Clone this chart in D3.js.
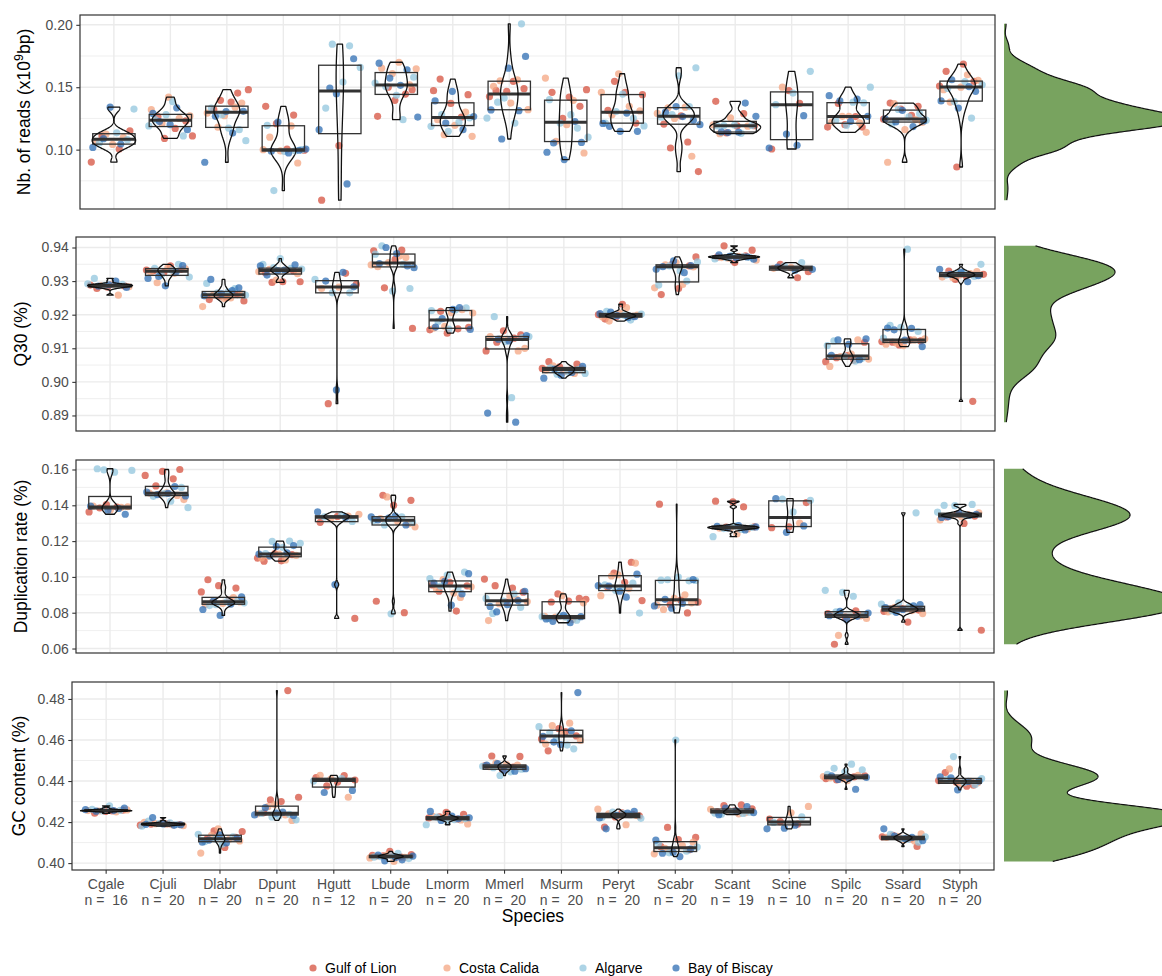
<!DOCTYPE html>
<html>
<head>
<meta charset="utf-8">
<script src="https://cdn.jsdelivr.net/npm/d3@7"></script>
<style>
body { margin: 0; background: #fff; }
text { font-family: "Liberation Sans", Arial, sans-serif; }
</style>
</head>
<body>
<div id="chart"></div>
<script>
var species = ["Cgale","Cjuli","Dlabr","Dpunt","Hgutt","Lbude","Lmorm","Mmerl","Msurm","Peryt","Scabr","Scant","Scine","Spilc","Ssard","Styph"];
var sampleSizes = [16,20,20,20,12,20,20,20,20,20,20,19,10,20,20,20];
var regions = ["Gulf of Lion","Costa Calida","Algarve","Bay of Biscay"];
var regionColors = ["#d6513f","#f4a582","#92c5de","#2f6db3"];

// per species: [Gulf of Lion, Costa Calida, Algarve, Bay of Biscay]
var reads = [
  [[0.090,0.1005,0.111,0.115],[0.1042,0.1065,0.1098,0.1125],[0.1325,0.1135,0.1053,0.108],[0.134,0.1018,0.1045,0.1088]],
  [[0.109,0.111,0.117,0.1265,0.123],[0.142,0.132,0.125,0.121,0.127],[0.1385,0.124,0.111,0.128,0.119],[0.1335,0.1225,0.116,0.120,0.129]],
  [[0.1453,0.1395,0.148,0.1381,0.132],[0.1373,0.1272,0.1293,0.134,0.118],[0.1072,0.1173,0.1333,0.116,0.128],[0.0899,0.1133,0.1267,0.1307,0.1305]],
  [[0.1347,0.1277,0.1208,0.0995,0.1005],[0.1100,0.0893,0.0990,0.1000,0.1190],[0.0672,0.1000,0.0985,0.1195,0.0990],[0.1221,0.1005,0.0973,0.0987,0.0995]],
  [[0.1032,0.0595],[],[0.1832,0.1845,0.1659,0.1541,0.1333],[0.1728,0.1448,0.116,0.0725,0.1493]],
  [[0.148,0.1395,0.1267,0.1445,0.150],[0.1648,0.170,0.1653,0.152,0.161],[0.1533,0.124,0.1505,0.158,0.1435],[0.1693,0.164,0.1573,0.1261,0.1515]],
  [[0.1565,0.144,0.137,0.1472,0.126],[0.112,0.1107,0.1195,0.124,0.130],[0.1147,0.1187,0.122,0.128,0.1255],[0.1467,0.139,0.116,0.1213,0.1265]],
  [[0.1547,0.1472,0.1488,0.1467,0.1425],[0.156,0.1552,0.132,0.1373,0.1507],[0.2008,0.1413,0.1253,0.1213,0.138],[0.1747,0.1653,0.1318,0.1312,0.1085]],
  [[0.148,0.1421,0.1459,0.1347,0.125],[0.1573,0.1395,0.1067,0.0973,0.120],[0.140,0.1173,0.1213,0.110,0.128],[0.1053,0.1058,0.092,0.0979,0.1225]],
  [[0.1547,0.144,0.1459,0.1315,0.1213],[0.1608,0.1459,0.1347,0.128,0.131],[0.1445,0.1213,0.125,0.1305,0.119],[0.1293,0.1187,0.1147,0.1147,0.121]],
  [[0.1061,0.1013,0.0824,0.127,0.1205],[0.0947,0.125,0.129,0.134,0.1335],[0.1656,0.1592,0.126,0.1345,0.128],[0.120,0.1265,0.130,0.1235,0.1345]],
  [[0.1387,0.1288,0.1134,0.1192,0.119],[0.1128,0.1188,0.1255,0.1198],[0.1131,0.1193,0.1194,0.1196,0.1191],[0.1373,0.1137,0.1267,0.114,0.1142]],
  [[0.1472,0.1005,0.137],[0.150],[0.1627,0.1453,0.136],[0.1272,0.1125,0.1013,0.1035]],
  [[0.1181,0.12,0.1181,0.1265,0.137],[0.1139,0.1267,0.122,0.1215,0.1267],[0.150,0.138,0.1235,0.1375,0.1195],[0.1432,0.1405,0.139,0.1267,0.1227]],
  [[0.1373,0.1347,0.1325,0.1244,0.1275],[0.1368,0.1218,0.116,0.0899,0.1241],[0.1322,0.1236,0.1262,0.1205,0.1288],[0.1315,0.1247,0.1185,0.1222,0.123]],
  [[0.1685,0.1627,0.1547,0.0861,0.151],[0.16,0.1381,0.1555,0.150,0.148],[0.1253,0.1385,0.152,0.1545,0.149],[0.1467,0.1333,0.139,0.1505,0.156]]
];

var q30 = [
  [[0.9278,0.9285,0.9282,0.9288],[0.9258,0.9286,0.9283,0.929],[0.9308,0.929,0.9287,0.9292],[0.930,0.9285,0.9281,0.9289]],
  [[0.9345,0.933,0.9335,0.9325,0.9333],[0.9323,0.9295,0.9337,0.934,0.9328],[0.935,0.9318,0.9312,0.9332,0.9338],[0.9346,0.9286,0.9308,0.9327,0.9314]],
  [[0.9241,0.9251,0.9245,0.926,0.9255],[0.9224,0.925,0.9258,0.9262,0.9248],[0.9293,0.9278,0.9265,0.9258,0.9268],[0.9305,0.928,0.9262,0.9256,0.9272]],
  [[0.9296,0.9298,0.9298,0.9325,0.933],[0.9303,0.9328,0.9332,0.9335,0.9322],[0.9367,0.935,0.9338,0.934,0.9336],[0.9333,0.9318,0.9348,0.9331,0.9345]],
  [[0.9323,0.8935,0.929],[0.9282,0.9278],[0.9265,0.9265,0.9305],[0.9326,0.930,0.9283,0.8976]],
  [[0.939,0.9392,0.928,0.9159,0.9365],[0.9343,0.937,0.9355,0.9348,0.9375],[0.9405,0.9278,0.927,0.938,0.935],[0.940,0.934,0.9382,0.9352,0.9345]],
  [[0.9145,0.9155,0.9158,0.921,0.9162],[0.9206,0.916,0.9215,0.9165,0.9205],[0.9214,0.918,0.922,0.9157,0.9212],[0.9221,0.9188,0.9156,0.9216,0.9163]],
  [[0.914,0.9152,0.9092,0.913,0.9118],[0.910,0.9125,0.9135,0.9092,0.9128],[0.9135,0.8953,0.9194,0.9132,0.912],[0.8907,0.888,0.9127,0.9138,0.9122]],
  [[0.906,0.9053,0.9045,0.904,0.9035],[0.9048,0.904,0.903,0.9036,0.9025],[0.9023,0.9025,0.903,0.9042,0.9037],[0.902,0.9011,0.9028,0.9038,0.9046]],
  [[0.9231,0.9187,0.9195,0.9192,0.920],[0.9221,0.9181,0.9199,0.9205,0.9193],[0.9184,0.9196,0.9202,0.9198,0.921],[0.9194,0.9197,0.9203,0.9191,0.9208]],
  [[0.9372,0.9278,0.926,0.9345,0.935],[0.928,0.929,0.9348,0.9342,0.9355],[0.9288,0.930,0.9345,0.9357,0.933],[0.9343,0.9346,0.936,0.9335,0.9325]],
  [[0.9405,0.9392,0.9355,0.9372,0.9375],[0.9368,0.9362,0.9374,0.937],[0.9371,0.9376,0.9366,0.9373,0.937],[0.9365,0.9369,0.9378,0.9372,0.9374]],
  [[0.931,0.935,0.9328],[0.934,0.9338],[0.9355,0.9345],[0.9335,0.9332,0.9342]],
  [[0.906,0.9065,0.9072,0.9118,0.9078],[0.9046,0.9125,0.9075,0.9068,0.9083],[0.9122,0.907,0.9076,0.9108,0.9062],[0.9125,0.9128,0.9112,0.9079,0.9066]],
  [[0.911,0.912,0.9125,0.9118,0.9122],[0.9108,0.9112,0.9125,0.9115,0.9128],[0.9395,0.9168,0.915,0.9162,0.913],[0.9159,0.9155,0.9105,0.9124,0.916]],
  [[0.8942,0.9305,0.932,0.9315,0.933],[0.9328,0.9318,0.9312,0.9322,0.931],[0.935,0.9325,0.9318,0.9314,0.9322],[0.9335,0.9298,0.932,0.9316,0.9326]]
];

var dupRate = [
  [[0.1404,0.1363,0.139,0.1385],[0.1392,0.1375,0.1395,0.1388],[0.1598,0.1595,0.1585,0.1604],[0.135,0.1373,0.1395,0.1382]],
  [[0.16,0.1589,0.1567,0.1548,0.1508],[0.1432,0.147,0.1468,0.1455,0.1462],[0.1387,0.1423,0.145,0.150,0.1465],[0.1474,0.1505,0.146,0.1452,0.1467]],
  [[0.0984,0.0938,0.0951,0.0916,0.087],[0.0858,0.086,0.0852,0.0845,0.0885],[0.0845,0.0855,0.0862,0.084,0.0865],[0.0785,0.0818,0.0848,0.0866,0.0888]],
  [[0.109,0.1088,0.1125,0.113,0.1105],[0.1095,0.1115,0.112,0.1128,0.1106],[0.12,0.1198,0.1188,0.1165,0.113],[0.1175,0.117,0.1127,0.1135,0.1118]],
  [[0.0768,0.1338,0.1305],[0.134,0.1325,0.135],[0.1345,0.1335,0.131],[0.0957,0.1363,0.1332]],
  [[0.1456,0.1428,0.14,0.0864,0.08],[0.1447,0.128,0.131,0.1325,0.1295],[0.0794,0.1315,0.1335,0.129,0.1305],[0.134,0.1318,0.129,0.1328,0.1335]],
  [[0.0809,0.092,0.095,0.097,0.0955],[0.0885,0.0985,0.0945,0.091,0.093],[0.1027,0.101,0.099,0.0935,0.0948],[0.1018,0.0842,0.0965,0.0905,0.0975]],
  [[0.0988,0.0938,0.0951,0.0915,0.086],[0.0756,0.0875,0.085,0.0862,0.0895],[0.0796,0.083,0.0865,0.088,0.0905],[0.0805,0.092,0.0845,0.0835,0.0868]],
  [[0.0905,0.0875,0.0865,0.086,0.088],[0.0895,0.078,0.0762,0.0775,0.0855],[0.0775,0.0768,0.0758,0.0782,0.0778],[0.0744,0.0752,0.0778,0.0785,0.0765]],
  [[0.1082,0.1021,0.0868,0.097,0.0945],[0.1077,0.1012,0.0895,0.0935,0.1005],[0.0798,0.094,0.0955,0.0965,0.0925],[0.0951,0.0887,0.0948,0.1015,0.092]],
  [[0.1406,0.0799,0.0845,0.086,0.087],[0.0818,0.0855,0.088,0.0842,0.09],[0.0984,0.098,0.0999,0.0982,0.0978],[0.0825,0.0838,0.0852,0.0875,0.0985]],
  [[0.1419,0.1423,0.1391,0.1278,0.128],[0.124,0.1272,0.1268,0.1275],[0.1225,0.1265,0.127,0.1276,0.1285],[0.1282,0.1262,0.1274,0.1279,0.1287]],
  [[0.1415,0.128,0.1275],[0.130],[0.1435,0.1428,0.1363],[0.1437,0.1285,0.1249]],
  [[0.0624,0.0785,0.0775,0.0795,0.081],[0.0674,0.0768,0.0772,0.079,0.0782],[0.0914,0.0925,0.0892,0.0805,0.0788],[0.0762,0.0783,0.078,0.0808,0.0798]],
  [[0.0748,0.082,0.0815,0.0825,0.0808],[0.0812,0.083,0.0795,0.0822,0.0805],[0.1358,0.0855,0.0848,0.0835,0.081],[0.0845,0.0818,0.0828,0.0838,0.0802]],
  [[0.0702,0.1299,0.1335,0.134,0.1352],[0.1318,0.1348,0.1342,0.1358,0.1338],[0.14,0.1405,0.1398,0.1362,0.1346],[0.1336,0.135,0.1355,0.1332,0.1344]]
];

var gcContent = [
  [[0.4255,0.4243,0.4258,0.4252],[0.4256,0.425,0.4254,0.4259],[0.4279,0.4262,0.4257,0.4254],[0.4261,0.4256,0.4253,0.4268]],
  [[0.4185,0.4192,0.419,0.4188,0.4195],[0.4198,0.4186,0.4192,0.4182,0.419],[0.4205,0.4188,0.4193,0.418,0.4196],[0.4222,0.4187,0.4191,0.4189,0.4184]],
  [[0.4157,0.4154,0.4076,0.412,0.4125],[0.4167,0.4049,0.4115,0.4135,0.4108],[0.4092,0.4105,0.4128,0.4118,0.414],[0.4098,0.4112,0.4122,0.4138,0.4102]],
  [[0.4841,0.4308,0.4321,0.43,0.4245],[0.4208,0.4285,0.424,0.4235,0.4275],[0.4211,0.4228,0.4242,0.4238,0.4225],[0.4235,0.4248,0.427,0.4232,0.4244]],
  [[0.4417,0.4427,0.4376,0.4405,0.4395],[0.4428,0.4321,0.441],[0.44,0.4412],[0.4344,0.4354]],
  [[0.4057,0.4038,0.403,0.4035,0.4042],[0.4008,0.4033,0.4028,0.404,0.4025],[0.4048,0.4031,0.4022,0.4036,0.4029],[0.4016,0.4011,0.4034,0.4027,0.4039]],
  [[0.4238,0.4247,0.422,0.4215,0.4225],[0.4191,0.4218,0.4228,0.421,0.4222],[0.4187,0.4212,0.4224,0.4217,0.4205],[0.4252,0.4216,0.4208,0.4221,0.4229]],
  [[0.4522,0.452,0.4455,0.4475,0.4468],[0.4487,0.4462,0.448,0.447,0.4478],[0.4427,0.4472,0.4445,0.4465,0.4458],[0.4452,0.4478,0.4448,0.4485,0.446]],
  [[0.4641,0.4547,0.462,0.4655,0.4605],[0.4682,0.467,0.4598,0.4628,0.458],[0.4557,0.4612,0.4665,0.4575,0.4635],[0.4831,0.4578,0.4618,0.4645,0.459]],
  [[0.423,0.4245,0.4175,0.4238,0.4225],[0.4263,0.4187,0.424,0.4232,0.4228],[0.4222,0.4236,0.4248,0.4218,0.4242],[0.4167,0.4252,0.4233,0.422,0.4244]],
  [[0.4174,0.4125,0.4115,0.408,0.4065],[0.4062,0.4045,0.4085,0.4072,0.4102],[0.46,0.4095,0.4058,0.405,0.4078],[0.4032,0.4048,0.4068,0.4052,0.4112]],
  [[0.4284,0.428,0.4265,0.4255,0.425],[0.4245,0.4258,0.4262,0.424],[0.4238,0.4248,0.4252,0.4244,0.4242],[0.4268,0.4246,0.4255,0.4236,0.4275]],
  [[0.4215,0.419,0.4202],[0.4276,0.4245],[0.4198,0.4225],[0.417,0.4167,0.4185]],
  [[0.4417,0.4412,0.442,0.4405,0.4425],[0.4402,0.4415,0.4428,0.441,0.4422],[0.4482,0.4462,0.4455,0.4445,0.4432],[0.436,0.4408,0.4418,0.4414,0.4425]],
  [[0.4081,0.4122,0.4128,0.4118,0.4135],[0.4142,0.4112,0.4125,0.4108,0.413],[0.4128,0.4115,0.414,0.4102,0.412],[0.4167,0.4125,0.4132,0.411,0.4119]],
  [[0.4441,0.438,0.4395,0.4402,0.4375],[0.4459,0.439,0.4385,0.4405,0.4398],[0.4519,0.4412,0.4392,0.4408,0.4382],[0.4357,0.442,0.4398,0.4415,0.44]]
];

var readsTicks = [0.10,0.15,0.20];
var q30Ticks = [0.89,0.90,0.91,0.92,0.93,0.94];
var dupTicks = [0.06,0.08,0.10,0.12,0.14,0.16];
var gcTicks = [0.40,0.42,0.44,0.46,0.48];

var width = 1162, height = 976;
var densityLeft = 1004;
var grid = "#ebebeb", dark = "#333333";

var panels = [
  {data: reads, ticks: readsTicks, title: "reads", top: 15, bottom: 209, left: 80, right: 995, titleX: 30, densW: 180},
  {data: q30, ticks: q30Ticks, title: "Q30 (%)", top: 237, bottom: 431, left: 76, right: 995, titleX: 27, densW: 111},
  {data: dupRate, ticks: dupTicks, title: "Duplication rate (%)", top: 460, bottom: 653, left: 76, right: 994, titleX: 27, densW: 180},
  {data: gcContent, ticks: gcTicks, title: "GC content (%)", top: 682, bottom: 870, left: 72, right: 994, titleX: 25, densW: 185}
];

var svg = d3.select("#chart").append("svg")
    .attr("width", width)
    .attr("height", height)
    .style("background", "#fff");

// R's bw.nrd0
function bwNrd0(v) {
    var s = v.slice().sort(d3.ascending);
    var hi = d3.deviation(s);
    var iqr = d3.quantileSorted(s, 0.75) - d3.quantileSorted(s, 0.25);
    var lo = Math.min(hi, iqr / 1.34);
    if (!lo) lo = hi || Math.abs(s[0]) || 1;
    return 0.9 * lo * Math.pow(s.length, -0.2);
}

function density(v, n) {
    var bw = bwNrd0(v);
    var lo = d3.min(v), hi = d3.max(v);
    var k = 1 / (v.length * bw * Math.sqrt(2 * Math.PI));
    return d3.range(n).map(function(i) {
        var y = lo + (hi - lo) * i / (n - 1);
        var d = d3.sum(v, function(x) { var u = (y - x) / bw; return Math.exp(-0.5 * u * u); }) * k;
        return {y: y, d: d};
    });
}

panels.forEach(function(p, pi) {
    var all = [];
    p.data.forEach(function(s) { s.forEach(function(r) { all = all.concat(r); }); });
    var ext = d3.extent(all);
    var pad = (ext[1] - ext[0]) * 0.05;

    var y = d3.scaleLinear()
        .domain([ext[0] - pad, ext[1] + pad])
        .range([p.bottom, p.top]);

    var x = d3.scalePoint()
        .domain(species)
        .range([p.left, p.right])
        .padding(0.6);
    var step = x.step();

    var g = svg.append("g");

    g.append("rect")
        .attr("x", p.left).attr("y", p.top)
        .attr("width", p.right - p.left).attr("height", p.bottom - p.top)
        .attr("fill", "#fff");

    // minor grid
    var tk = p.ticks, dt = tk[1] - tk[0];
    var ext2 = [tk[0] - dt].concat(tk).concat([tk[tk.length - 1] + dt]);
    var minor = [];
    for (var i = 0; i < ext2.length - 1; i++) minor.push((ext2[i] + ext2[i + 1]) / 2);
    minor = minor.filter(function(m) { return m > y.domain()[0] && m < y.domain()[1]; });

    g.selectAll(".minor").data(minor).enter().append("line")
        .attr("x1", p.left).attr("x2", p.right)
        .attr("y1", function(d) { return y(d); }).attr("y2", function(d) { return y(d); })
        .attr("stroke", grid).attr("stroke-width", 0.8);

    g.selectAll(".major").data(tk).enter().append("line")
        .attr("x1", p.left).attr("x2", p.right)
        .attr("y1", function(d) { return y(d); }).attr("y2", function(d) { return y(d); })
        .attr("stroke", grid).attr("stroke-width", 1.4);

    g.selectAll(".vmajor").data(species).enter().append("line")
        .attr("x1", function(d) { return x(d); }).attr("x2", function(d) { return x(d); })
        .attr("y1", p.top).attr("y2", p.bottom)
        .attr("stroke", grid).attr("stroke-width", 1.4);

    // jittered points
    var pts = [];
    p.data.forEach(function(s, si) {
        var k = 0;
        s.forEach(function(r, ri) {
            r.forEach(function(v) {
                var f = ((k * 0.618034 + si * 0.37 + pi * 0.21) % 1) - 0.5;
                pts.push({cx: x(species[si]) + f * 0.8 * step, v: v, r: ri});
                k++;
            });
        });
    });

    g.selectAll(".pt").data(pts).enter().append("circle")
        .attr("cx", function(d) { return d.cx; })
        .attr("cy", function(d) { return y(d.v); })
        .attr("r", 3.6)
        .attr("fill", function(d) { return regionColors[d.r]; })
        .attr("fill-opacity", 0.75);

    // boxes
    var bw = 0.75 * step;
    p.data.forEach(function(s, si) {
        var v = [].concat.apply([], s).sort(d3.ascending);
        var q1 = d3.quantileSorted(v, 0.25), md = d3.quantileSorted(v, 0.5), q3 = d3.quantileSorted(v, 0.75);
        var cx = x(species[si]);
        g.append("rect")
            .attr("x", cx - bw / 2).attr("y", y(q3))
            .attr("width", bw).attr("height", Math.max(0.5, y(q1) - y(q3)))
            .attr("fill", "none").attr("stroke", dark).attr("stroke-width", 1.3);
        g.append("line")
            .attr("x1", cx - bw / 2).attr("x2", cx + bw / 2)
            .attr("y1", y(md)).attr("y2", y(md))
            .attr("stroke", dark).attr("stroke-width", 3);
    });

    // violins, scale = "area"
    var dens = p.data.map(function(s) { return density([].concat.apply([], s), 256); });
    var maxD = d3.max(dens, function(d) { return d3.max(d, function(e) { return e.d; }); });
    var half = 0.45 * step;
    var line = d3.line().x(function(d) { return d[0]; }).y(function(d) { return d[1]; });
    dens.forEach(function(d, si) {
        var cx = x(species[si]);
        var right = d.map(function(e) { return [cx + e.d / maxD * half, y(e.y)]; });
        var left = d.slice().reverse().map(function(e) { return [cx - e.d / maxD * half, y(e.y)]; });
        g.append("path")
            .attr("d", line(right.concat(left)) + "Z")
            .attr("fill", "none")
            .attr("stroke", "#111")
            .attr("stroke-width", 1.3)
            .attr("stroke-linejoin", "round");
    });

    // border
    g.append("rect")
        .attr("x", p.left).attr("y", p.top)
        .attr("width", p.right - p.left).attr("height", p.bottom - p.top)
        .attr("fill", "none").attr("stroke", dark).attr("stroke-width", 1.2);

    // y axis
    var yAxis = g.append("g")
        .attr("transform", "translate(" + p.left + ",0)")
        .call(d3.axisLeft(y).tickValues(tk).tickFormat(d3.format(".2f")).tickSize(3.7).tickPadding(3.5));
    yAxis.select(".domain").remove();
    yAxis.selectAll(".tick line").attr("stroke", dark).attr("stroke-width", 1.1);
    yAxis.selectAll(".tick text")
        .attr("fill", "#4d4d4d")
        .style("font-size", "14px")
        .style("font-family", "'Liberation Sans', Arial, sans-serif");

    // y title
    var t = g.append("text")
        .attr("transform", "translate(" + p.titleX + "," + ((p.top + p.bottom) / 2) + ") rotate(-90)")
        .attr("text-anchor", "middle")
        .attr("fill", "#000")
        .style("font-size", "17.5px");
    if (pi === 0) {
        t.append("tspan").text("Nb. of reads (x10");
        t.append("tspan").attr("dy", -7).style("font-size", "12.5px").text("9");
        t.append("tspan").attr("dy", 7).text("bp)");
    } else {
        t.text(p.title);
    }

    // x axis only on the last panel
    if (pi === panels.length - 1) {
        var xa = g.append("g")
            .attr("transform", "translate(0," + p.bottom + ")");
        xa.selectAll("line").data(species).enter().append("line")
            .attr("x1", function(d) { return x(d); }).attr("x2", function(d) { return x(d); })
            .attr("y1", 0).attr("y2", 3.7)
            .attr("stroke", dark).attr("stroke-width", 1.1);
        var lab = xa.selectAll("text").data(species).enter().append("text")
            .attr("x", function(d) { return x(d); })
            .attr("y", 18.5)
            .attr("text-anchor", "middle")
            .attr("fill", "#4d4d4d")
            .style("font-size", "14px")
            .style("white-space", "pre");
        lab.append("tspan").attr("x", function(d) { return x(d); }).text(function(d) { return d; });
        lab.append("tspan").attr("x", function(d) { return x(d); }).attr("dy", 16)
            .text(function(d, i) { return "n =  " + sampleSizes[i]; });

        g.append("text")
            .attr("x", (p.left + p.right) / 2)
            .attr("y", p.bottom + 52)
            .attr("text-anchor", "middle")
            .attr("fill", "#000")
            .style("font-size", "17.5px")
            .text("Species");
    }

    // marginal density
    var dAll = density(all, 512);
    var mAll = d3.max(dAll, function(e) { return e.d; });
    var area = [[densityLeft, y(ext[0])]]
        .concat(dAll.map(function(e) { return [densityLeft + e.d / mAll * p.densW, y(e.y)]; }))
        .concat([[densityLeft, y(ext[1])]]);
    svg.append("path")
        .attr("d", line(area) + "Z")
        .attr("fill", "#78a35f")
        .attr("stroke", "none");
    svg.append("path")
        .attr("d", line(area.slice(1, area.length - 1)))
        .attr("fill", "none")
        .attr("stroke", "#111")
        .attr("stroke-width", 1.2);
});

// legend
var legendDots = [313, 447, 583, 676];
var leg = svg.append("g").attr("transform", "translate(0,968)");
regions.forEach(function(r, i) {
    var it = leg.append("g");
    it.append("circle").attr("cx", legendDots[i]).attr("cy", 0).attr("r", 3.6)
        .attr("fill", regionColors[i]).attr("fill-opacity", 0.75);
    it.append("text").attr("x", legendDots[i] + 12).attr("y", 5)
        .attr("fill", "#000").style("font-size", "14px").text(r);
});
</script>
</body>
</html>
